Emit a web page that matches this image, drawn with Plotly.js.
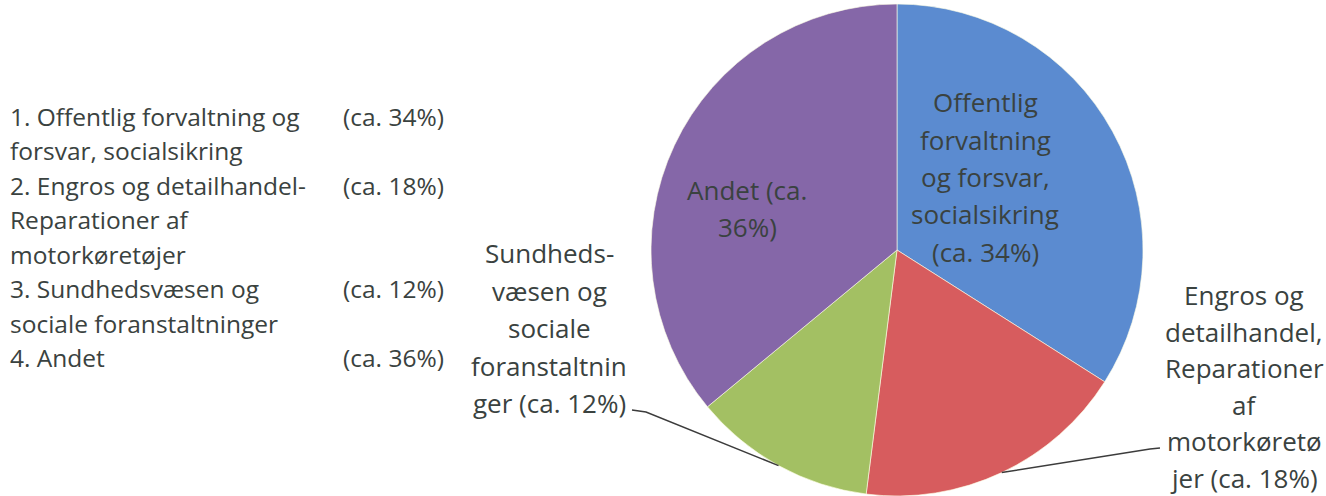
<!DOCTYPE html>
<html>
<head>
<meta charset="utf-8">
<script src="https://cdn.plot.ly/plotly-3.0.1.min.js"></script>
<style>
  body { margin: 0; background: #fff; }
  #chart { width: 1326px; height: 496px; }
</style>
</head>
<body>
<div id="chart"></div>
<script>
// slices, clockwise from 12 o'clock
var categories = ['Offentlig forvaltning og forsvar, socialsikring', 'Engros og detailhandel, Reparationer af motorkøretøjer', 'Sundhedsvæsen og sociale foranstaltninger', 'Andet'];
var shares = [34, 18, 12, 36];
var colors = ['#5b8bd0', '#d75c5e', '#a3c063', '#8567a8'];

// wrapped labels as they appear on the chart
var pieLabels = [
    ['Offentlig', 'forvaltning', 'og forsvar,', 'socialsikring', '(ca. 34%)'],
    ['Engros og', 'detailhandel,', 'Reparationer', 'af', 'motorkøretø', 'jer (ca. 18%)'],
    ['Sundheds-', 'væsen og', 'sociale', 'foranstaltnin', 'ger (ca. 12%)'],
    ['Andet (ca.', '36%)']
];

// list on the left
var listLines = [
    ['1. Offentlig forvaltning og', 'forsvar, socialsikring'],
    ['2. Engros og detailhandel-', 'Reparationer af', 'motorkøretøjer'],
    ['3. Sundhedsvæsen og', 'sociale foranstaltninger'],
    ['4. Andet']
];

var W = 1326, H = 496;
var cx = 897, cy = 250, r = 246;
var textColor = '#3a4240';
var fontFam = '"Open Sans", Lato, sans-serif';

function px(x) { return x / W; }
function py(y) { return 1 - y / H; }

var annotations = [];
var shapes = [];

function addLine(text, x, y, size, anchor) {
    annotations.push({
        xref: 'paper', yref: 'paper', x: px(x), y: py(y),
        text: text, showarrow: false,
        xanchor: anchor || 'center', yanchor: 'middle',
        font: {family: fontFam, size: size, color: textColor}
    });
}

// left list
var listY = 116, listStep = 34.5;
for (let i = 0; i < listLines.length; i++) {
    addLine('(ca. ' + shares[i] + '%)', 341, listY, 24.5, 'left');
    for (let j = 0; j < listLines[i].length; j++) {
        addLine(listLines[i][j], 8, listY, 24.5, 'left');
        listY += listStep;
    }
}

// labels placed around / inside pie
var labelPos = [
    {x: 985, y: 102, step: 37.5},
    {x: 1244, y: 295, step: 36.5},
    {x: 549, y: 253, step: 37.5},
    {x: 747, y: 190, step: 37}
];
for (let i = 0; i < pieLabels.length; i++) {
    for (let j = 0; j < pieLabels[i].length; j++) {
        addLine(pieLabels[i][j], labelPos[i].x, labelPos[i].y + j * labelPos[i].step, 26);
    }
}

// leader lines from outside labels to slice middles
var total = shares.reduce((a, b) => a + b, 0);
var start = 0;
var mids = [];
for (let i = 0; i < shares.length; i++) {
    mids.push((start + shares[i] / 2) / total * 2 * Math.PI);
    start += shares[i];
}
function edge(i) {
    return [cx + r * Math.sin(mids[i]), cy - r * Math.cos(mids[i])];
}
var e1 = edge(1), e2 = edge(2);
shapes.push({
    type: 'path', xref: 'paper', yref: 'paper',
    path: 'M' + px(1160) + ',' + py(448) + ' L' + px(1150) + ',' + py(449) + ' L' + px(e1[0]) + ',' + py(e1[1]),
    line: {color: '#3c3c3c', width: 1.5}
});
shapes.push({
    type: 'path', xref: 'paper', yref: 'paper',
    path: 'M' + px(632) + ',' + py(410) + ' L' + px(646) + ',' + py(412) + ' L' + px(e2[0]) + ',' + py(e2[1]),
    line: {color: '#3c3c3c', width: 1.5}
});

var data = [{
    type: 'pie',
    labels: categories,
    values: shares,
    sort: false,
    direction: 'clockwise',
    rotation: 0,
    textinfo: 'none',
    hoverinfo: 'label+percent',
    marker: {colors: colors, line: {color: 'rgba(255,255,230,0.6)', width: 1}},
    domain: {x: [px(cx - r), px(cx + r)], y: [py(cy + r), py(cy - r)]}
}];

var layout = {
    width: W,
    height: H,
    margin: {l: 0, r: 0, t: 0, b: 0},
    showlegend: false,
    paper_bgcolor: '#ffffff',
    annotations: annotations,
    shapes: shapes
};

Plotly.newPlot('chart', data, layout, {displayModeBar: false, staticPlot: true});
</script>
</body>
</html>
